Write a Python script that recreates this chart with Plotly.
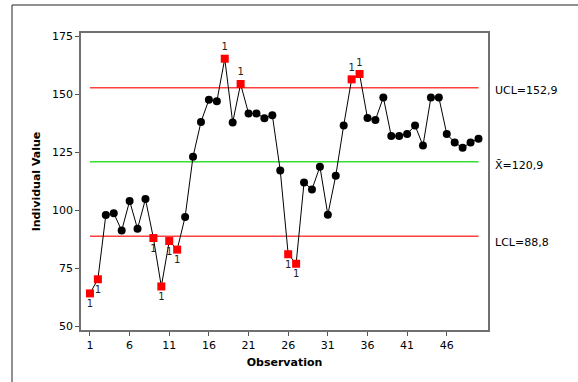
import plotly.graph_objects as go

observations = list(range(1, 51))
values = [64.1, 70.2, 97.9, 98.7, 91.2, 104.0, 92.0, 104.8, 88.0, 67.1,
          86.7, 83.0, 97.1, 123.1, 138.1, 147.7, 147.0, 165.4, 137.9, 154.5,
          141.8, 141.8, 139.7, 141.0, 117.1, 81.0, 76.9, 112.0, 109.0, 118.8,
          98.1, 114.9, 136.6, 156.5, 158.8, 139.8, 139.0, 148.7, 132.0, 132.0,
          132.9, 136.6, 127.9, 148.7, 148.7, 132.9, 129.2, 127.0, 129.2, 130.9]
UCL = 152.9
CENTER = 120.9
LCL = 88.8
x_ticks = [1, 6, 11, 16, 21, 26, 31, 36, 41, 46]
y_ticks = [50, 75, 100, 125, 150, 175]

W, H = 578, 382
L, R, T, B = 81, 488, 33, 330

flag_hi = [v > UCL for v in values]
flag_lo = [v < LCL for v in values]
flag = [a or b for a, b in zip(flag_hi, flag_lo)]

colors = ["#ff0000" if f else "#000000" for f in flag]
symbols = ["square" if f else "circle" for f in flag]
texts = ["1" if f else "" for f in flag]
tpos = ["top center" if hi else "bottom center" for hi in flag_hi]

font = "DejaVu Sans"

fig = go.Figure()
for yv, col in [(UCL, "#ff4040"), (CENTER, "#33e033"), (LCL, "#ff4040")]:
    fig.add_trace(go.Scatter(x=[observations[0], observations[-1]], y=[yv, yv], mode="lines",
                             line=dict(color=col, width=1.5), hoverinfo="skip", showlegend=False))

fig.add_trace(go.Scatter(
    x=observations, y=values, mode="lines+markers+text",
    line=dict(color="#000000", width=1),
    marker=dict(color=colors, symbol=symbols, size=8, opacity=1, line=dict(width=0)),
    text=texts, textposition=tpos,
    textfont=dict(family=font, size=10, color="#222222"),
    showlegend=False, cliponaxis=False))

def px_x(p):
    return (p - L) / (R - L)

def px_y(p):
    return (B - p) / (B - T)

fig.add_shape(type="rect", xref="paper", yref="paper",
              x0=px_x(12), y0=px_y(395), x1=px_x(600), y1=px_y(5),
              line=dict(color="#222222", width=1), fillcolor="rgba(0,0,0,0)", layer="below")

for txt, yv, sh in [("UCL=152,9", UCL, -3), ("X\u0304=120,9", CENTER, -4), ("LCL=88,8", LCL, -6)]:
    fig.add_annotation(x=px_x(493), xref="paper", y=yv, yref="y", text=txt, showarrow=False,
                       xanchor="left", yanchor="middle", yshift=sh,
                       font=dict(family=font, size=11, color="#000000"))

axis_common = dict(showline=True, linecolor="#707070", linewidth=1.5, mirror=True,
                   ticks="outside", ticklen=4, tickcolor="#555555", tickwidth=1,
                   showgrid=False, zeroline=False,
                   tickfont=dict(family=font, size=11, color="#000000"))

fig.update_xaxes(range=[-0.13, 51.2], tickvals=x_ticks,
                 title=dict(text="<b>Observation</b>", font=dict(family=font, size=11, color="#000000"), standoff=7),
                 **axis_common)
fig.update_yaxes(range=[48.3, 176.5], tickvals=y_ticks,
                 title=dict(text="<b>Individual Value</b>", font=dict(family=font, size=11, color="#000000"), standoff=9),
                 **axis_common)

fig.update_layout(width=W, height=H, margin=dict(l=L, r=W - R, t=T, b=H - B),
                  paper_bgcolor="white", plot_bgcolor="white")

fig.write_html("out.html", config={"displayModeBar": False},
               post_script="document.body.style.margin='0px';")
